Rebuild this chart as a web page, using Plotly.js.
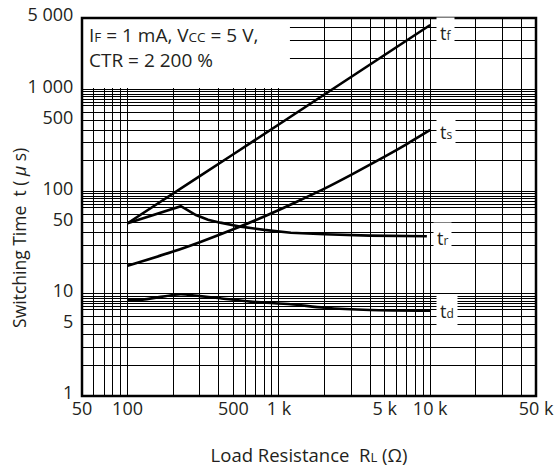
<!DOCTYPE html>
<html>
<head>
<meta charset="utf-8">
<script src="https://cdn.plot.ly/plotly-3.0.1.min.js"></script>
<style>
  html, body { margin: 0; padding: 0; background: #ffffff; }
  #chart { width: 557px; height: 468px; }
</style>
</head>
<body>
<div id="chart"></div>
<script>
// ---- Data ----
// Load resistance R_L (Ω) -> switching times (μs)
const tfX = [100, 200, 300, 500, 1000, 2000, 5000, 10000];
const tfY = [49, 97, 142, 232, 455, 895, 2180, 4270];

const tsX = [100, 200, 300, 500, 800, 1000, 1500, 2000, 3000, 5000, 7000, 10000];
const tsY = [18.8, 25.9, 32, 42.8, 57.1, 66, 87.3, 107, 146, 220, 292, 401];

const trX = [100, 225, 283, 340, 410, 560, 800, 1200, 2000, 4000, 9500];
const trY = [49, 72, 59, 53, 49.7, 45.4, 42.2, 39.6, 38.3, 37.1, 36.6];

const tdX = [100, 120, 200, 225, 300, 410, 650, 1200, 2000, 4000, 10000];
const tdY = [8.7, 8.7, 9.75, 9.9, 9.5, 9.04, 8.38, 7.9, 7.31, 6.95, 6.84];

const seriesNames = ["t<span style='font-size:12px'>f</span>",
                     "t<span style='font-size:12px'>s</span>",
                     "t<span style='font-size:12px'>r</span>",
                     "t<span style='font-size:12px'>d</span>"];

// Grid / tick definitions
const xTickVals = [50, 60, 70, 80, 90,
                   100, 200, 300, 400, 500, 600, 700, 800, 900,
                   1000, 2000, 3000, 4000, 5000, 6000, 7000, 8000, 9000,
                   10000, 20000, 30000, 40000, 50000];
const xTickLabels = {50: "50", 100: "100", 500: "500", 1000: "1 k", 5000: "5 k", 10000: "10 k", 50000: "50 k"};

const yTickVals = [1, 2, 3, 4, 5, 6, 7, 7.5, 8, 8.5, 9, 9.5,
                   10, 20, 30, 40, 50, 60, 70, 75, 80, 85, 90, 95,
                   100, 200, 300, 400, 500, 600, 700, 750, 800, 850, 900, 950,
                   1000, 2000, 3000, 4000, 5000];
const yTickLabels = {1: "1", 5: "5", 10: "10", 50: "50", 100: "100", 500: "500", 1000: "1 000", 5000: "5 000"};

const conditionText = "I<span style='font-size:13.5px'>F</span> = 1 mA, V<span style='font-size:13.5px'>CC</span> = 5 V,<br>CTR = 2 200 %";
const xTitleText = "Load Resistance  R<span style='font-size:13px'>L</span> (Ω)";
const yTitleText = "Switching Time  t ( <i>μ</i> s)";

// ---- Build ----
const FONT = "Open Sans, Noto Sans, sans-serif";
const INK = "#231f20";
const allX = [tfX, tsX, trX, tdX];
const allY = [tfY, tsY, trY, tdY];
const lineShapes = ["linear", "spline", "linear", "spline"];

const traces = allX.map((xs, i) => ({
  type: "scatter",
  mode: "lines",
  x: xs,
  y: allY[i],
  line: { color: "#000000", width: 2.6, shape: lineShapes[i], smoothing: 0.8 },
  hoverinfo: "skip",
  showlegend: false
}));

const labelYShift = [-8, -2, -2, 0];
const labelAnnotations = allX.map((xs, i) => ({
  xref: "x", yref: "y",
  x: Math.log10(xs[xs.length - 1]),
  y: Math.log10(allY[i][allY[i].length - 1]),
  xanchor: "left", yanchor: "middle",
  xshift: 6, yshift: labelYShift[i],
  text: seriesNames[i],
  showarrow: false,
  bgcolor: "#ffffff",
  borderpad: 3,
  font: { family: FONT, size: 18, color: INK }
}));

const layout = {
  width: 557, height: 468,
  margin: { l: 82, r: 21, t: 18, b: 72 },
  paper_bgcolor: "#ffffff",
  plot_bgcolor: "#ffffff",
  showlegend: false,
  font: { family: FONT, size: 18, color: INK },
  xaxis: {
    type: "log",
    range: [Math.log10(50), Math.log10(50000)],
    tickmode: "array",
    tickvals: xTickVals,
    ticktext: xTickVals.map(v => xTickLabels[v] || ""),
    ticks: "",
    showgrid: true, gridcolor: "#000000", gridwidth: 1,
    zeroline: false,
    showline: false,
    tickfont: { family: FONT, size: 18, color: INK },
    title: { text: xTitleText, font: { family: FONT, size: 18.5, color: INK }, standoff: 30 }
  },
  yaxis: {
    type: "log",
    range: [0, Math.log10(5000)],
    tickmode: "array",
    tickvals: yTickVals,
    ticktext: yTickVals.map(v => yTickLabels[v] || ""),
    ticks: "outside", ticklen: 4, tickcolor: "rgba(0,0,0,0)",
    ticklabelshift: -3,
    showgrid: true, gridcolor: "#000000", gridwidth: 1,
    zeroline: false,
    showline: false,
    tickfont: { family: FONT, size: 18, color: INK }
  },
  shapes: [{
    type: "rect", layer: "above",
    xref: "paper", yref: "paper",
    x0: 0, x1: 0.458, y0: 0.815, y1: 1,
    fillcolor: "#ffffff", line: { width: 0 }
  }, {
    type: "rect", layer: "above",
    xref: "paper", yref: "paper",
    x0: 0, x1: 1, y0: 0, y1: 1,
    fillcolor: "rgba(0,0,0,0)", line: { color: "#000000", width: 2.5 }
  }],
  annotations: [{
    xref: "paper", yref: "paper",
    x: 0.01, y: 0.995,
    xanchor: "left", yanchor: "top",
    align: "left",
    text: conditionText,
    showarrow: false,
    font: { family: FONT, size: 19, color: INK }
  }, {
    xref: "paper", yref: "paper",
    x: -0.139, y: 0.418,
    xanchor: "center", yanchor: "middle",
    textangle: -90,
    text: yTitleText,
    showarrow: false,
    font: { family: FONT, size: 17.5, color: INK }
  }].concat(labelAnnotations)
};

Plotly.newPlot("chart", traces, layout, { staticPlot: true, displayModeBar: false });
</script>
</body>
</html>
